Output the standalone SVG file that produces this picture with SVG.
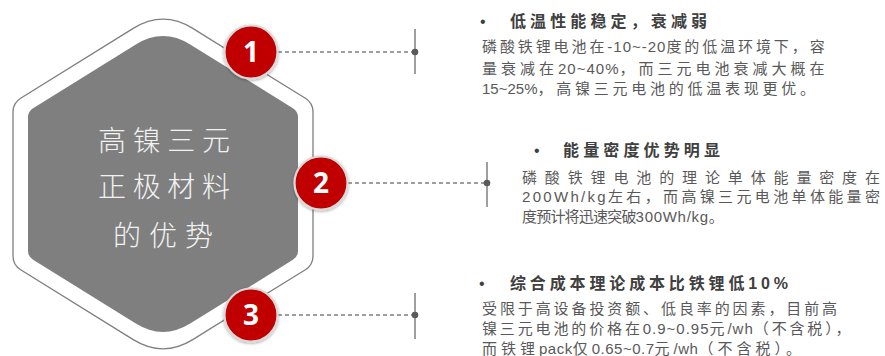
<svg xmlns="http://www.w3.org/2000/svg" width="885" height="356" viewBox="0 0 885 356">
  <defs>
    <filter id="sh" x="-30%" y="-30%" width="160%" height="160%">
      <feDropShadow dx="0" dy="1" stdDeviation="1.5" flood-color="#000" flood-opacity="0.35"/>
    </filter>
  </defs>
  <style>
    .hexo { fill: #ffffff; stroke: #7f7f7f; stroke-width: 1.3; }
    .hexi { fill: #7f7f7f; }
    .ctr { font-family: "Noto Sans CJK SC", sans-serif; font-size: 28px; font-weight: 300; fill: #f2f2f2; text-anchor: middle; }
    .badge { fill: #c00000; stroke: #d9d9d9; stroke-width: 2.2; filter: url(#sh); }
    .num { font-family: "Open Sans", "Liberation Sans", sans-serif; font-weight: 700; font-size: 28px; fill: #ffffff; text-anchor: middle; }
    .dash { stroke: #7f7f7f; stroke-width: 1.3; stroke-dasharray: 4 3; fill: none; }
    .tick { stroke: #7f7f7f; stroke-width: 1.5; }
    .dot { fill: #595959; }
    .ttl { font-family: "Liberation Sans", "Noto Sans CJK SC", sans-serif; font-size: 16px; font-weight: 700; fill: #404040; }
    .bul { font-family: "Liberation Sans", sans-serif; font-size: 16px; fill: #404040; }
    .body { font-family: "Liberation Sans", "Noto Sans CJK SC", sans-serif; font-size: 15px; fill: #595959; }
  </style>

  <g id="hexagon">
    <path class="hexo" d="M133.25,28.4 Q163,10 192.75,28.4 L305.35,98.26 Q313,103 313,112 L313,256 Q313,265 305.35,269.74 L192.75,339.6 Q163,358 133.25,339.6 L20.65,269.74 Q13,265 13,256 L13,112 Q13,103 20.65,98.26 Z"/>
    <path class="hexi" d="M135.8,44.5 Q163,27.65 190.2,44.5 L292.9,108.19 Q298,111.35 298,117.35 L298,250.65 Q298,256.65 292.9,259.81 L190.2,323.5 Q163,340.35 135.8,323.5 L33.1,259.81 Q28,256.65 28,250.65 L28,117.35 Q28,111.35 33.1,108.19 Z"/>
    <text class="ctr" x="164" y="151" textLength="132" lengthAdjust="spacing">高镍三元</text>
    <text class="ctr" x="164" y="197" textLength="132" lengthAdjust="spacing">正极材料</text>
    <text class="ctr" x="163" y="246" textLength="100" lengthAdjust="spacing">的优势</text>
  </g>

  <g id="connectors">
    <line class="dash" x1="278" y1="52" x2="415" y2="52"/>
    <line class="tick" x1="415" y1="29" x2="415" y2="74"/>
    <circle class="dot" cx="415" cy="52" r="3.3"/>
    <line class="dash" x1="348" y1="183" x2="487" y2="183"/>
    <line class="tick" x1="487" y1="162" x2="487" y2="207"/>
    <circle class="dot" cx="487" cy="183" r="3.3"/>
    <line class="dash" x1="278" y1="315" x2="415" y2="315"/>
    <line class="tick" x1="415" y1="293" x2="415" y2="339"/>
    <circle class="dot" cx="415" cy="315" r="3.3"/>
  </g>

  <g id="badge1">
    <circle class="badge" cx="251" cy="52" r="26.5"/>
    <text class="num" x="251" y="62">1</text>
  </g>
  <g id="badge2">
    <circle class="badge" cx="321" cy="183" r="26.5"/>
    <text class="num" x="321" y="193">2</text>
  </g>
  <g id="badge3">
    <circle class="badge" cx="251" cy="315" r="26.5"/>
    <text class="num" x="251" y="325">3</text>
  </g>

  <g id="item1">
    <text class="bul" x="480" y="27">•</text>
    <text class="ttl" x="510" y="27" textLength="197" lengthAdjust="spacing">低温性能稳定，衰减弱</text>
    <text class="body" x="482" y="52" letter-spacing="2.9">磷酸铁锂电池在<tspan letter-spacing="1">-10~-20</tspan>度的低温环境下，容</text>
    <text class="body" x="482" y="74" letter-spacing="4">量衰减在<tspan letter-spacing="1">20~40%</tspan>，而三元电池衰减大概在</text>
    <text class="body" x="482" y="94" letter-spacing="3.75"><tspan letter-spacing="0">15~25%</tspan>，高镍三元电池的低温表现更优。</text>
  </g>

  <g id="item2">
    <text class="bul" x="534" y="156">•</text>
    <text class="ttl" x="563" y="156" textLength="157" lengthAdjust="spacing">能量密度优势明显</text>
    <text class="body" x="522" y="183" textLength="358" lengthAdjust="spacing">磷酸铁锂电池的理论单体能量密度在</text>
    <text class="body" x="522" y="202" letter-spacing="3.36"><tspan letter-spacing="2.3">200Wh/kg</tspan>左右，而高镍三元电池单体能量密</text>
    <text class="body" x="522" y="222" letter-spacing="-0.8">度预计将迅速突破<tspan letter-spacing="0.7">300Wh/kg</tspan>。</text>
  </g>

  <g id="item3">
    <text class="bul" x="479" y="289">•</text>
    <text class="ttl" x="510" y="289" textLength="278" lengthAdjust="spacing">综合成本理论成本比铁锂低10%</text>
    <text class="body" x="482" y="314" letter-spacing="2.9">受限于高设备投资额、低良率的因素，目前高</text>
    <text class="body" x="482" y="334" letter-spacing="2.86">镍三元电池的价格在<tspan letter-spacing="1">0.9~0.95</tspan>元<tspan letter-spacing="1">/wh</tspan>（不含税），</text>
    <text class="body" x="482" y="354" letter-spacing="4">而铁锂<tspan letter-spacing="0.5">pack</tspan>仅<tspan letter-spacing="0.5">0.65~0.7</tspan>元<tspan letter-spacing="0.5">/wh</tspan>（不含税）。</text>
  </g>
</svg>
